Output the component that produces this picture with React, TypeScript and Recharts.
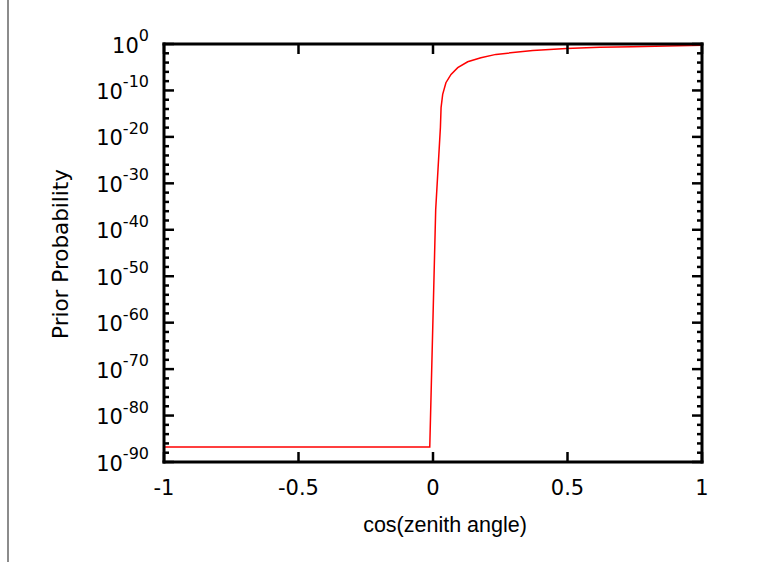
import { LineChart, Line, XAxis, YAxis } from "recharts"

// cos(zenith angle) vs prior probability
const cosZenith = [-1, -0.012, 0.01, 0.0275, 0.03, 0.036, 0.048, 0.067, 0.092, 0.129, 0.178, 0.234, 0.371, 0.496, 0.62, 0.742, 0.868, 1]
const priorProb = [1.6e-87, 1.6e-87, 2e-36, 1e-18, 2e-14, 1.4e-11, 4.7e-9, 2.9e-7, 7.9e-6, 1.5e-4, 1.1e-3, 5.8e-3, 0.04, 0.11, 0.19, 0.26, 0.36, 0.56]

const xTicks = [-1, -0.5, 0, 0.5, 1]
const xTickLabels = ["-1", "-0.5", "0", "0.5", "1"]

const data = cosZenith.map((x, i) => ({ x, p: priorProb[i] }))

// minor tics every 2 decades, labelled every 10
const yTickExp: number[] = []
for (let e = 0; e >= -90; e -= 2) yTickExp.push(e)
const yTicks = yTickExp.map(e => parseFloat(`1e${e}`))
const yDomain = [parseFloat("1e-90"), 1]

const FONT = "'Liberation Sans', Arial, Helvetica, sans-serif"
const TICK_FONT = "'DejaVu Sans', sans-serif"
const FS = 21
const MAJOR = 10
const MINOR = 5
const frame = { stroke: "#000", strokeWidth: 3, strokeLinecap: "square" as const }

const expOf = (v: number) => Math.round(Math.log10(v))

function LeftTick({ x, y, payload }: any) {
    const e = expOf(payload.value)
    const major = e % 10 === 0
    return (
        <g>
            <line x1={x} x2={x + (major ? MAJOR : MINOR)} y1={y} y2={y} stroke="#000" strokeWidth={2.5} />
            {major && (
                <text x={x - 15} y={y + 8.5} textAnchor="end" fontFamily={TICK_FONT} fontSize={FS} fill="#000">
                    10<tspan dy={-11.5} fontSize={16}>{e}</tspan>
                </text>
            )}
        </g>
    )
}

function RightTick({ x, y, payload }: any) {
    const e = expOf(payload.value)
    const major = e % 10 === 0
    return <line x1={x} x2={x - (major ? MAJOR : MINOR)} y1={y} y2={y} stroke="#000" strokeWidth={2.5} />
}

function BottomTick({ x, y, payload, index }: any) {
    return (
        <g>
            <line x1={x} x2={x} y1={y} y2={y - MAJOR} stroke="#000" strokeWidth={2.5} />
            <text x={x} y={y + 33} textAnchor="middle" fontFamily={TICK_FONT} fontSize={FS} fill="#000">
                {xTickLabels[index] ?? String(payload.value)}
            </text>
        </g>
    )
}

function TopTick({ x, y }: any) {
    return <line x1={x} x2={x} y1={y} y2={y + MAJOR} stroke="#000" strokeWidth={2.5} />
}

export default function App() {
    return (
        <div style={{ position: "absolute", left: 0, top: 0, width: 771, height: 562, background: "#fff" }}>
            {/* page edge */}
            <div style={{ position: "absolute", left: 7, top: 0, width: 2, height: 562, background: "#8c8c8c" }} />
            <LineChart
                width={771}
                height={562}
                data={data}
                margin={{ top: 34, right: 59, bottom: 70, left: 64 }}
            >
                <XAxis
                    dataKey="x"
                    type="number"
                    domain={[-1, 1]}
                    ticks={xTicks}
                    interval={0}
                    height={30}
                    tickSize={0}
                    tickMargin={0}
                    tickLine={false}
                    axisLine={frame}
                    tick={<BottomTick />}
                    label={{
                        content: () => (
                            <text x={445} y={532} textAnchor="middle" fontFamily={FONT} fontSize={21.5} fill="#000">
                                cos(zenith angle)
                            </text>
                        ),
                    }}
                />
                <XAxis
                    xAxisId="top"
                    orientation="top"
                    dataKey="x"
                    type="number"
                    domain={[-1, 1]}
                    ticks={xTicks}
                    interval={0}
                    height={10}
                    tickSize={0}
                    tickMargin={0}
                    tickLine={false}
                    axisLine={frame}
                    tick={<TopTick />}
                />
                <YAxis
                    dataKey="p"
                    scale="log"
                    type="number"
                    domain={yDomain}
                    allowDataOverflow
                    ticks={yTicks}
                    interval={0}
                    width={100}
                    tickSize={0}
                    tickMargin={0}
                    tickLine={false}
                    axisLine={frame}
                    tick={<LeftTick />}
                    label={{
                        content: () => (
                            <text
                                x={67.5}
                                y={254}
                                transform="rotate(-90, 67.5, 254)"
                                textAnchor="middle"
                                fontFamily={TICK_FONT}
                                fontSize={21.5}
                                fill="#000"
                            >
                                Prior Probability
                            </text>
                        ),
                    }}
                />
                <YAxis
                    yAxisId="right"
                    orientation="right"
                    dataKey="p"
                    scale="log"
                    type="number"
                    domain={yDomain}
                    allowDataOverflow
                    ticks={yTicks}
                    interval={0}
                    width={10}
                    tickSize={0}
                    tickMargin={0}
                    tickLine={false}
                    axisLine={frame}
                    tick={<RightTick />}
                />
                <Line
                    type="linear"
                    dataKey="p"
                    stroke="#ff0000"
                    strokeWidth={1.5}
                    dot={false}
                    isAnimationActive={false}
                />
            </LineChart>
        </div>
    )
}
